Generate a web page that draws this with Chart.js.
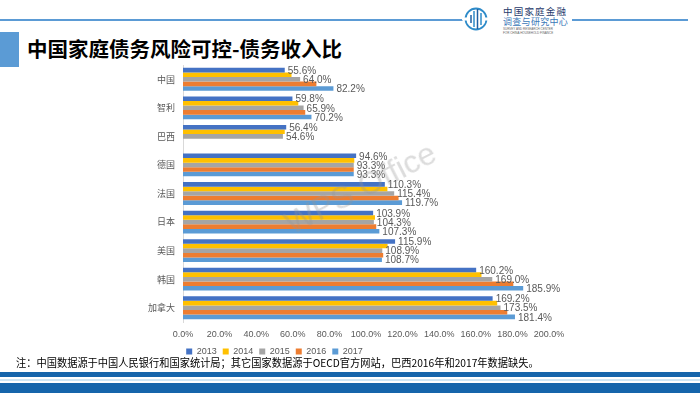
<!DOCTYPE html>
<html lang="zh">
<head>
<meta charset="utf-8">
<title>中国家庭债务风险可控-债务收入比</title>
<script src="https://cdn.jsdelivr.net/npm/chart.js@4/dist/chart.umd.min.js"></script>
<style>
    html, body { margin: 0; padding: 0; }
    body {
        width: 700px; height: 393px; position: relative; overflow: hidden;
        background: #fff; font-family: 'Noto Sans CJK SC', sans-serif;
    }
    .abs { position: absolute; }
    #chartBox { left: 0; top: 0; width: 700px; height: 393px; }
    .topline { top: 19px; height: 2px; background: #5B9BD5; }
    #titleMark { left: 0; top: 32px; width: 19px; height: 35px; background: #5B9BD5; }
    #title {
        left: 27px; top: 33px; font-size: 20.5px; font-weight: bold; color: #000;
        white-space: nowrap; line-height: 30px;
    }
    #note {
        left: 16px; top: 355px; font-size: 11px; color: #000; white-space: nowrap;
        line-height: 14px; transform-origin: 0 0; transform: scaleX(0.93);
    }
    #watermark {
        left: 279px; top: 210px; font-family: 'Liberation Sans', sans-serif; font-size: 32px;
        color: rgba(150, 150, 150, 0.33); transform: rotate(-27deg); transform-origin: 0 0;
        white-space: nowrap; line-height: 34px;
    }
</style>
</head>
<body>

<div class="abs topline" style="left:0;width:463px"></div>
<div class="abs topline" style="left:572px;width:116px"></div>

<!-- logo -->
<svg class="abs" style="left:462px;top:2px" width="120" height="34" viewBox="0 0 120 34">
    <circle cx="14" cy="17" r="10.5" fill="none" stroke="#2E8BC9" stroke-width="1.8"/>
    <rect x="0" y="15.5" width="6" height="3" fill="#fff"/>
    <rect x="23" y="15.5" width="6" height="3" fill="#fff"/>
    <line x1="9" y1="13" x2="9" y2="21" stroke="#1E5FA3" stroke-width="1.5"/>
    <line x1="12" y1="9" x2="12" y2="25" stroke="#2E8BC9" stroke-width="1.5"/>
    <line x1="15.5" y1="7" x2="15.5" y2="27" stroke="#1E5FA3" stroke-width="1.5"/>
    <line x1="19" y1="11" x2="19" y2="23" stroke="#2E8BC9" stroke-width="1.5"/>
    <text x="41" y="13" font-size="9.5" fill="#1F3A6B" font-family="Noto Sans CJK SC" letter-spacing="1.2">中国家庭金融</text>
    <text x="41" y="23" font-size="9" fill="#3A78B8" font-family="Noto Sans CJK SC" letter-spacing="0.3">调查与研究中心</text>
    <text x="41" y="27.5" font-size="3" fill="#666" font-family="Liberation Sans">SURVEY AND RESEARCH CENTER</text>
    <text x="41" y="31.5" font-size="3" fill="#666" font-family="Liberation Sans">FOR CHINA HOUSEHOLD FINANCE</text>
</svg>

<div class="abs" id="titleMark"></div>
<div class="abs" id="title">中国家庭债务风险可控-债务收入比</div>

<div class="abs" id="chartBox"><canvas id="debtChart" width="700" height="393"></canvas></div>

<div class="abs" id="watermark">WPS Office</div>

<div class="abs" id="note">注：中国数据源于中国人民银行和国家统计局；其它国家数据源于OECD官方网站，巴西2016年和2017年数据缺失。</div>

<!-- franjas inferiores -->
<div class="abs" style="left:0;top:372px;width:700px;height:5px;background:#1565AB"></div>
<div class="abs" style="left:0;top:379px;width:700px;height:2px;background:#CFE6F4"></div>
<div class="abs" style="left:0;top:383px;width:700px;height:10px;background:#1565AB"></div>

<script>
// Datos (债务收入比, %)
const categories = ['中国', '智利', '巴西', '德国', '法国', '日本', '美国', '韩国', '加拿大'];
const years = ['2013', '2014', '2015', '2016', '2017'];
const values2013 = [55.6, 59.8, 56.4, 94.6, 110.3, 103.9, 115.9, 160.2, 169.2];
const values2014 = [59.3, 63.0, 55.6, 93.6, 111.7, 104.9, 111.8, 163.1, 171.7];
const values2015 = [64.0, 65.9, 54.6, 93.3, 115.4, 104.3, 108.9, 169.0, 173.5];
const values2016 = [72.9, 66.8, null, 93.3, 117.8, 105.6, 109.4, 180.5, 177.2];
const values2017 = [82.2, 70.2, null, 93.3, 119.7, 107.3, 108.7, 185.9, 181.4];
// only these years carry a value label in the original
const labeledYears = ['2013', '2015', '2017'];
const xMin = 0;
const xMax = 200;
const xStep = 20;

const seriesValues = [values2013, values2014, values2015, values2016, values2017];
const seriesColors = ['#4472C4', '#FFC000', '#A5A5A5', '#ED7D31', '#5B9BD5'];
const labelFont = "'Liberation Sans', sans-serif";
const textGray = '#595959';

// Etiquetas de valor al final de cada barra
const valueLabels = {
    id: 'valueLabels',
    afterDatasetsDraw(chart) {
        const ctx = chart.ctx;
        ctx.save();
        ctx.font = "10px " + labelFont;
        ctx.fillStyle = textGray;
        ctx.textAlign = 'left';
        ctx.textBaseline = 'middle';
        chart.data.datasets.forEach((ds, i) => {
            if (!labeledYears.includes(ds.label)) return;
            const meta = chart.getDatasetMeta(i);
            meta.data.forEach((bar, j) => {
                const v = ds.data[j];
                if (v === null || v === undefined) return;
                ctx.fillText(v.toFixed(1) + '%', bar.x + 3, bar.y + 1);
            });
        });
        ctx.restore();
    }
};

const datasets = years.map((y, i) => ({
    label: y,
    data: seriesValues[i],
    backgroundColor: seriesColors[i],
    borderWidth: 0,
    categoryPercentage: 0.8,
    barPercentage: 1.0
}));

new Chart(document.getElementById('debtChart').getContext('2d'), {
    type: 'bar',
    data: { labels: categories, datasets: datasets },
    plugins: [valueLabels],
    options: {
        indexAxis: 'y',
        responsive: false,
        animation: false,
        layout: { padding: { left: 0, right: 151, top: 65, bottom: 27 } },
        plugins: {
            tooltip: { enabled: false },
            legend: {
                position: 'bottom',
                labels: {
                    boxWidth: 6, boxHeight: 6, padding: 6, color: textGray,
                    font: { size: 9, family: labelFont }
                }
            }
        },
        scales: {
            x: {
                min: xMin, max: xMax,
                grid: { display: false, drawTicks: false },
                border: { display: false },
                ticks: {
                    stepSize: xStep, padding: 7, color: textGray,
                    font: { size: 9, family: labelFont },
                    autoSkip: false, maxRotation: 0, minRotation: 0,
                    callback: v => Number(v).toFixed(1) + '%'
                },
                // altura fija del eje (la natural deja demasiado hueco sobre la leyenda)
                afterFit: scale => { scale.height = 19; }
            },
            y: {
                grid: { display: false, drawTicks: false },
                border: { display: true, color: '#D9D9D9', width: 1 },
                ticks: {
                    padding: 8, color: textGray,
                    font: { size: 9, family: "'Noto Sans CJK SC', sans-serif" }
                },
                afterFit: scale => { scale.width = 183; }
            }
        }
    }
});
</script>
</body>
</html>
